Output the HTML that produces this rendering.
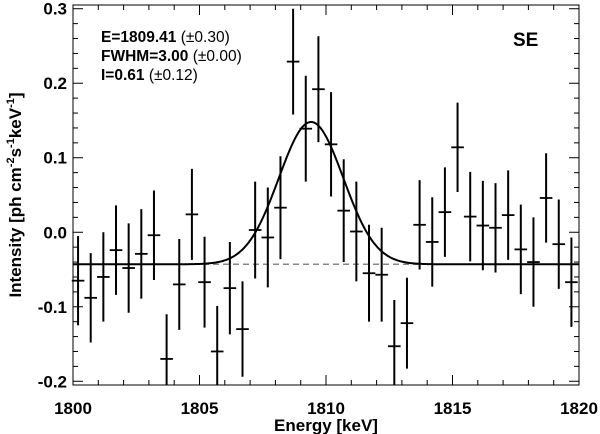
<!DOCTYPE html>
<html><head><meta charset="utf-8"><style>
body{margin:0;background:#fff}
svg{display:block;font-family:"Liberation Sans",sans-serif}
</style></head><body>
<svg width="600" height="434" viewBox="0 0 600 434" id="chart">
</svg>
<script>
const energies=[1800.2,1800.7,1801.2,1801.7,1802.2,1802.7,1803.2,1803.7,1804.2,1804.7,1805.2,1805.7,1806.2,1806.7,1807.2,1807.7,1808.2,1808.7,1809.2,1809.7,1810.2,1810.7,1811.2,1811.7,1812.2,1812.7,1813.2,1813.7,1814.2,1814.7,1815.2,1815.7,1816.2,1816.7,1817.2,1817.7,1818.2,1818.7,1819.2,1819.7];
const intensity=[-0.065,-0.088,-0.06,-0.024,-0.048,-0.029,-0.004,-0.17,-0.07,0.024,-0.067,-0.16,-0.075,-0.13,0.003,-0.007,0.033,0.229,0.139,0.192,0.118,0.029,0.001,-0.055,-0.057,-0.153,-0.122,0.01,-0.013,0.027,0.114,0.021,0.009,0.006,0.023,-0.023,-0.04,0.046,-0.016,-0.067];
const errors=[0.06,0.06,0.06,0.06,0.06,0.06,0.06,0.06,0.061,0.061,0.061,0.061,0.062,0.064,0.065,0.067,0.069,0.071,0.071,0.071,0.07,0.069,0.067,0.065,0.063,0.062,0.061,0.06,0.06,0.06,0.06,0.06,0.06,0.06,0.06,0.06,0.06,0.06,0.06,0.06];
const xTicks=[1800,1805,1810,1815,1820];
const yTicks=[-0.2,-0.1,0.0,0.1,0.2,0.3];
const fitCenter=1809.41, fitFWHM=3.0, fitBase=-0.043, fitAmp=0.191;

const svg=document.getElementById('chart');
const NS='http://www.w3.org/2000/svg';
const L=73,R=579,T=5,B=385, X0=1800,X1=1820,Y0=-0.205,Y1=0.305;
const sx=v=>L+(v-X0)/(X1-X0)*(R-L);
const sy=v=>B-(v-Y0)/(Y1-Y0)*(B-T);
function mk(tag,attrs){const e=document.createElementNS(NS,tag);for(const k in attrs)e.setAttribute(k,attrs[k]);svg.appendChild(e);return e;}

let bl=mk('line',{x1:L,x2:R,y1:sy(fitBase),y2:sy(fitBase),stroke:'#888','stroke-width':1.5,'stroke-dasharray':'6,4'});



energies.forEach((e,i)=>{
  const g=document.createElementNS(NS,'g');svg.appendChild(g);
  
  
  const x=sx(e),y=sy(intensity[i]);
  const yt=Math.max(T,sy(intensity[i]+errors[i])),yb=Math.min(B,sy(intensity[i]-errors[i]));
  const v=document.createElementNS(NS,'line');
  [['x1',x],['x2',x],['y1',yt],['y2',yb],['stroke','#000'],['stroke-width',2]].forEach(a=>v.setAttribute(a[0],a[1]));g.appendChild(v);
  const h=document.createElementNS(NS,'line');
  [['x1',x-6.3],['x2',x+6.3],['y1',y],['y2',y],['stroke','#000'],['stroke-width',1.8]].forEach(a=>h.setAttribute(a[0],a[1]));g.appendChild(h);
});

const sig=fitFWHM/2.3548;let d='';
for(let i=0;i<=400;i++){const e=X0+(X1-X0)*i/400;const v=fitBase+fitAmp*Math.exp(-0.5*((e-fitCenter)/sig)**2);d+=(i?'L':'M')+sx(e).toFixed(2)+','+sy(v).toFixed(2);}
let fit=mk('path',{d:d,fill:'none',stroke:'#000','stroke-width':2});



let fr=mk('rect',{x:L,y:T,width:R-L,height:B-T,fill:'none',stroke:'#000','stroke-width':1});



for(let v=X0;v<=X1;v+=1){const maj=v%5===0;const x=sx(v);const len=maj?10:5;
  mk('line',{x1:x,x2:x,y1:B,y2:B-len,stroke:'#000','stroke-width':1});
  mk('line',{x1:x,x2:x,y1:T,y2:T+len,stroke:'#000','stroke-width':1});}
xTicks.forEach(v=>{const t=mk('text',{x:sx(v),y:414,'text-anchor':'middle','font-size':17,'font-weight':'bold'});t.textContent=v;
  
  });
for(let k=-10;k<=15;k++){const v=k*0.02;const maj=k%5===0;const y=sy(v);const len=maj?10:5;
  mk('line',{x1:L,x2:L+len,y1:y,y2:y,stroke:'#000','stroke-width':1});
  mk('line',{x1:R,x2:R-len,y1:y,y2:y,stroke:'#000','stroke-width':1});}
yTicks.forEach(v=>{const t=mk('text',{x:L-6,y:sy(v)+6,'text-anchor':'end','font-size':17,'font-weight':'bold'});t.textContent=v.toFixed(1);
  
  });
</script>
<svg width="600" height="434" style="position:absolute;left:0;top:0">
<text x="326" y="431" text-anchor="middle" font-size="17" font-weight="bold" font-family="Liberation Sans,sans-serif">Energy [keV]</text>
<text transform="translate(21,195) rotate(-90)" text-anchor="middle" font-size="17" font-weight="bold" font-family="Liberation Sans,sans-serif">Intensity [ph cm<tspan font-size="11" dy="-7">-2</tspan><tspan dy="7">s</tspan><tspan font-size="11" dy="-7">-1</tspan><tspan dy="7">keV</tspan><tspan font-size="11" dy="-7">-1</tspan><tspan dy="7">]</tspan></text>
<g font-family="Liberation Sans,sans-serif" font-size="15.5">
<text x="101" y="42"><tspan font-weight="bold">E=1809.41</tspan> (±0.30)</text>
<text x="101" y="61"><tspan font-weight="bold">FWHM=3.00</tspan> (±0.00)</text>
<text x="101" y="80"><tspan font-weight="bold">I=0.61</tspan> (±0.12)</text>
</g>
<text x="513" y="46" font-size="19" font-weight="bold" font-family="Liberation Sans,sans-serif">SE</text>
</svg>
</body></html>
